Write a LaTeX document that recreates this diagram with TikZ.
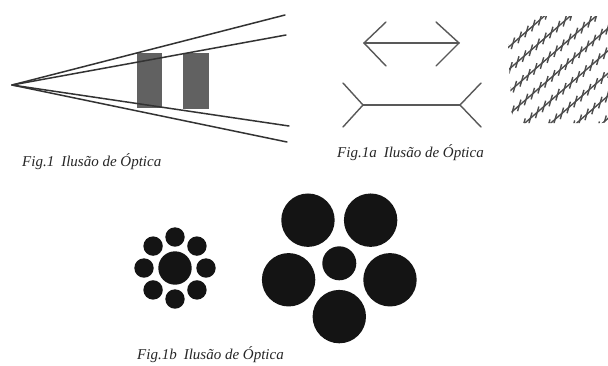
\documentclass[tikz,border=0pt]{standalone}
\usepackage{fontspec}
\setmainfont{Liberation Serif}
\usetikzlibrary{calc}
\begin{document}
\begin{tikzpicture}[x=1pt,y=-1pt,
  ray/.style={draw=black!80, line width=1.5pt, line cap=round},
  mline/.style={draw=black!65, line width=1.4pt, line cap=round},
  zl/.style={draw=black!70, line width=1.4pt},
  blob/.style={fill=black!92},
  captext/.style={font=\fontsize{15}{15}\selectfont\itshape, text=black!85, inner sep=0pt}]
\useasboundingbox[fill=white] (0,0) rectangle (608,365);

% ---------- Fig.1 ----------
\coordinate (apex) at (12,85);
\fill[black!62] (137,53) rectangle (162,108);
\fill[black!62] (183,53) rectangle (209,109);
\coordinate (to) at (285,15);
\coordinate (ti) at (286,35);
\coordinate (bi) at (289,126);
\coordinate (bo) at (287,142);
\draw[ray] (apex) -- (to);
\draw[ray] (apex) -- (ti);
\draw[ray] (apex) -- (bi);
\draw[ray] (apex) -- (bo);
\node[captext, anchor=west] (c1) at (22,162) {Fig.1\hspace{7pt}Ilusão de Óptica};

% ---------- Fig.1a ----------
\coordinate (a1) at (364,43);
\coordinate (a2) at (459,43);
\draw[mline] (a1) -- (a2);
\draw[mline] (386,22) -- (a1) -- (386,66);
\draw[mline] (436,22) -- (a2) -- (436,66);
\coordinate (b1) at (363,105);
\coordinate (b2) at (460,105);
\draw[mline] (b1) -- (b2);
\draw[mline] (343,83) -- (b1) -- (343,127);
\draw[mline] (481,83) -- (b2) -- (481,127);
\node[captext, anchor=west] (c2) at (337,153) {Fig.1a\hspace{7pt}Ilusão de Óptica};

% ---------- Zoellner ----------
\begin{scope}
\clip (530,16) -- (600,16) [rounded corners=12pt] -- (614,16) -- (614,123) -- (512,123) [sharp corners] -- (508,45) -- cycle;
\foreach \i in {-5,...,5} {
  \pgfmathsetmacro\cx{560+\i*17*sin(41)}
  \pgfmathsetmacro\cy{70+\i*17*cos(41)}
  \draw[zl] ({\cx-100*cos(41)},{\cy+100*sin(41)}) -- ({\cx+100*cos(41)},{\cy-100*sin(41)});
  \foreach \t in {-99,-90,...,99} {
    \draw[zl] ({\cx+\t*cos(41)-6*cos(74)},{\cy-\t*sin(41)+6*sin(74)}) -- ({\cx+\t*cos(41)+6*cos(74)},{\cy-\t*sin(41)-6*sin(74)});
  }
}
\end{scope}

% ---------- Fig.1b ----------
\coordinate (s0) at (175,268);
\fill[blob] (s0) circle (16.7);
\foreach \a in {0,45,...,315} {
  \fill[blob] ($(s0)+(\a:31)$) circle (9.7);
}
\coordinate (l0) at (339.3,263.3);
\fill[blob] (l0) circle (17);
\foreach \a in {90,162,234,306,18} {
  \fill[blob] ($(l0)+(\a:53.3)$) circle (26.7);
}
\node[captext, anchor=west] (c3) at (137,355) {Fig.1b\hspace{7pt}Ilusão de Óptica};
\end{tikzpicture}
\end{document}
